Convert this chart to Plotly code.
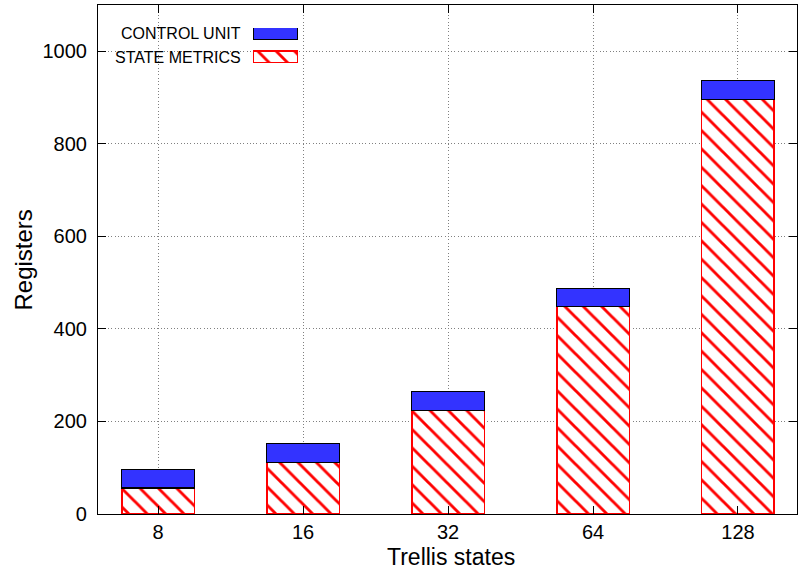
import plotly.graph_objects as go

# Register usage per trellis size
trellis_states = ["8", "16", "32", "64", "128"]
state_metrics = [56, 112, 224, 448, 896]
control_unit = [40, 40, 40, 40, 40]

FONT = "Liberation Sans, Arial, sans-serif"
BLUE = "#3333ff"
RED = "#ff0000"

HATCH = dict(shape="\\", fgcolor=RED, bgcolor="white",
             size=13, solidity=0.22, fillmode="replace")

fig = go.Figure()

fig.add_trace(go.Bar(
    x=trellis_states, y=state_metrics, name="STATE METRICS",
    width=0.5,
    marker=dict(color="white", pattern=HATCH,
                line=dict(color=RED, width=1.5)),
    showlegend=False,
))
fig.add_trace(go.Bar(
    x=trellis_states, y=control_unit, name="CONTROL UNIT",
    width=0.5,
    marker=dict(color=BLUE, line=dict(color="black", width=1.2)),
    showlegend=False,
))

# Legend swatches drawn on a small inset axis pair
fig.add_trace(go.Bar(
    y=[1], x=[1], orientation="h", width=0.51, xaxis="x2", yaxis="y2",
    marker=dict(color=BLUE, line=dict(color="black", width=1.2)),
    showlegend=False, hoverinfo="skip",
))
fig.add_trace(go.Bar(
    y=[0], x=[1], orientation="h", width=0.51, xaxis="x2", yaxis="y2",
    marker=dict(color="white", pattern=HATCH,
                line=dict(color=RED, width=1.5)),
    showlegend=False, hoverinfo="skip",
))

W, H = 800, 570
L, R, T, B = 98, 3, 5, 56
pw, ph = W - L - R, H - T - B


def px_x(p):
    return (p - L) / pw


def px_y(p):
    return (H - B - p) / ph


axis_common = dict(
    showline=True, linecolor="black", linewidth=1.2, mirror="ticks",
    ticks="inside", ticklen=8, tickcolor="black",
    showgrid=True, gridcolor="#808080", griddash="1px,2.3px", gridwidth=1,
    tickfont=dict(size=20), zeroline=False,
)

fig.update_layout(
    width=W, height=H,
    margin=dict(l=L, r=R, t=T, b=B, autoexpand=False),
    paper_bgcolor="white", plot_bgcolor="white",
    barmode="stack",
    font=dict(family=FONT, color="black", size=20),
    xaxis=dict(type="category", range=[-0.414, 4.407],
               ticklabelstandoff=0, **axis_common),
    yaxis=dict(range=[0, 1100], tickvals=[0, 200, 400, 600, 800, 1000],
               ticklabelstandoff=6, **axis_common),
    xaxis2=dict(domain=[px_x(253), px_x(298)], range=[0, 1], anchor="y2",
                visible=False, fixedrange=True),
    yaxis2=dict(domain=[px_y(63), px_y(28)], range=[-0.255, 1.235],
                anchor="x2", visible=False, fixedrange=True),
    annotations=[
        dict(text="CONTROL UNIT", x=px_x(243), y=px_y(34), xref="paper",
             yref="paper", xanchor="right", yanchor="middle",
             showarrow=False, font=dict(size=16, family=FONT)),
        dict(text="STATE METRICS", x=px_x(243), y=px_y(57.5), xref="paper",
             yref="paper", xanchor="right", yanchor="middle",
             showarrow=False, font=dict(size=16, family=FONT)),
        dict(text="Trellis states", x=px_x(451), y=px_y(557), xref="paper",
             yref="paper", xanchor="center", yanchor="middle",
             showarrow=False, font=dict(size=23, family=FONT)),
        dict(text="Registers", x=px_x(22.5), y=px_y(260), xref="paper",
             yref="paper", xanchor="center", yanchor="middle",
             textangle=-90, showarrow=False,
             font=dict(size=24, family=FONT)),
    ],
)

fig.write_html("out.html")
